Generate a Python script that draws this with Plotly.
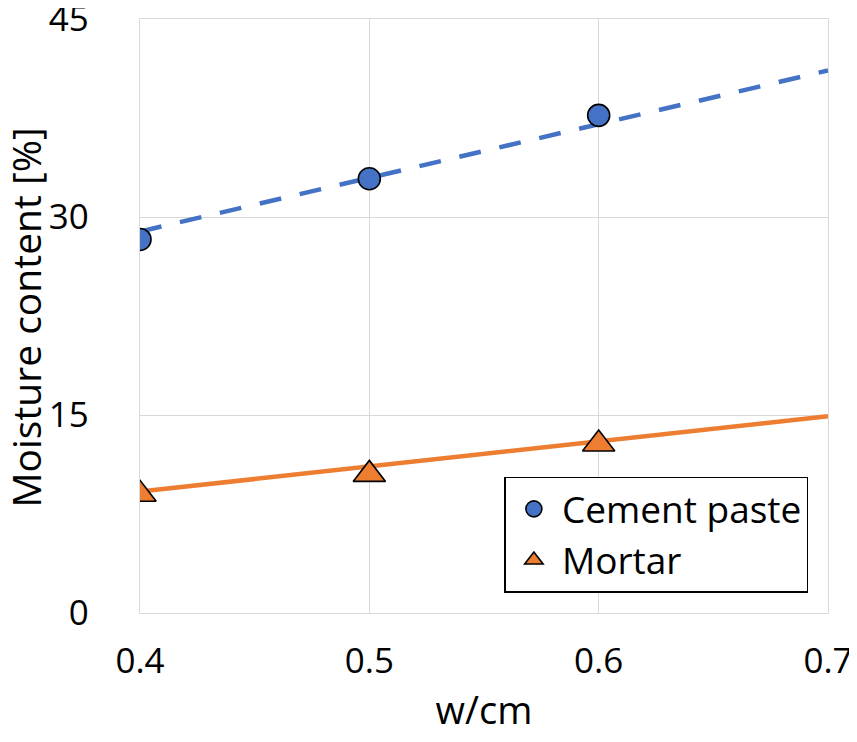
import plotly.graph_objects as go

# Data
wcm = [0.4, 0.5, 0.6]
cement_paste = [28.3, 32.9, 37.7]
mortar = [9.0, 10.5, 12.8]

trend_x = [0.4, 0.7]
cement_trend = [28.9, 41.1]
mortar_trend = [9.2, 14.9]

x_ticks = [0.4, 0.5, 0.6, 0.7]
y_ticks = [0, 15, 30, 45]

BLUE = "#4472C4"
ORANGE = "#ED7D31"
FONT = "Open Sans, Segoe UI, sans-serif"

fig = go.Figure()

fig.add_trace(go.Scatter(
    x=trend_x, y=cement_trend, mode="lines", showlegend=False,
    line=dict(color=BLUE, width=4.5, dash="22px,19px"), hoverinfo="skip"))
fig.add_trace(go.Scatter(
    x=trend_x, y=mortar_trend, mode="lines", showlegend=False,
    line=dict(color=ORANGE, width=4.5), hoverinfo="skip"))

fig.add_trace(go.Scatter(
    x=wcm, y=cement_paste, mode="markers", name="Cement paste",
    marker=dict(symbol="circle", size=22, color=BLUE,
                line=dict(color="#000000", width=1.6))))
fig.add_trace(go.Scatter(
    x=wcm, y=mortar, mode="markers", name="Mortar",
    marker=dict(symbol="triangle-up", size=28, color=ORANGE,
                line=dict(color="#000000", width=1.6))))

axis_common = dict(
    showgrid=True, gridcolor="#d9d9d9", gridwidth=1.3,
    showline=True, linecolor="#d9d9d9", linewidth=1.3, mirror=True,
    zeroline=False, ticks="", automargin=False,
    ticklabeloverflow="allow",
    tickfont=dict(family=FONT, size=35, color="#000000"),
)

fig.update_xaxes(
    range=[0.4, 0.7], tickvals=x_ticks, ticktext=[f"{v:.1f}" for v in x_ticks],
    title=dict(text="w/cm", font=dict(family=FONT, size=38, color="#000000")),
    ticklabelstandoff=17,
    **axis_common)
fig.update_yaxes(
    range=[0, 45], tickvals=y_ticks, ticktext=[str(v) for v in y_ticks],
    ticklabelstandoff=43,
    **axis_common)

fig.add_annotation(
    text="Moisture content [%]", xref="paper", yref="paper",
    x=-0.166, y=0.497, xanchor="center", yanchor="middle",
    textangle=-90, showarrow=False,
    font=dict(family=FONT, size=39, color="#000000"))

fig.update_layout(
    width=849, height=734,
    margin=dict(l=131.5, r=29.3, t=11, b=129),
    paper_bgcolor="white", plot_bgcolor="white",
    font=dict(family=FONT, color="#000000"),
    legend=dict(
        x=0.9715, y=0.034, xanchor="right", yanchor="bottom",
        bgcolor="white", bordercolor="#000000", borderwidth=1.5,
        font=dict(family=FONT, size=37, color="#000000"),
        itemsizing="trace", itemwidth=46, tracegroupgap=0,
    ),
)

fig.write_html("out.html")
